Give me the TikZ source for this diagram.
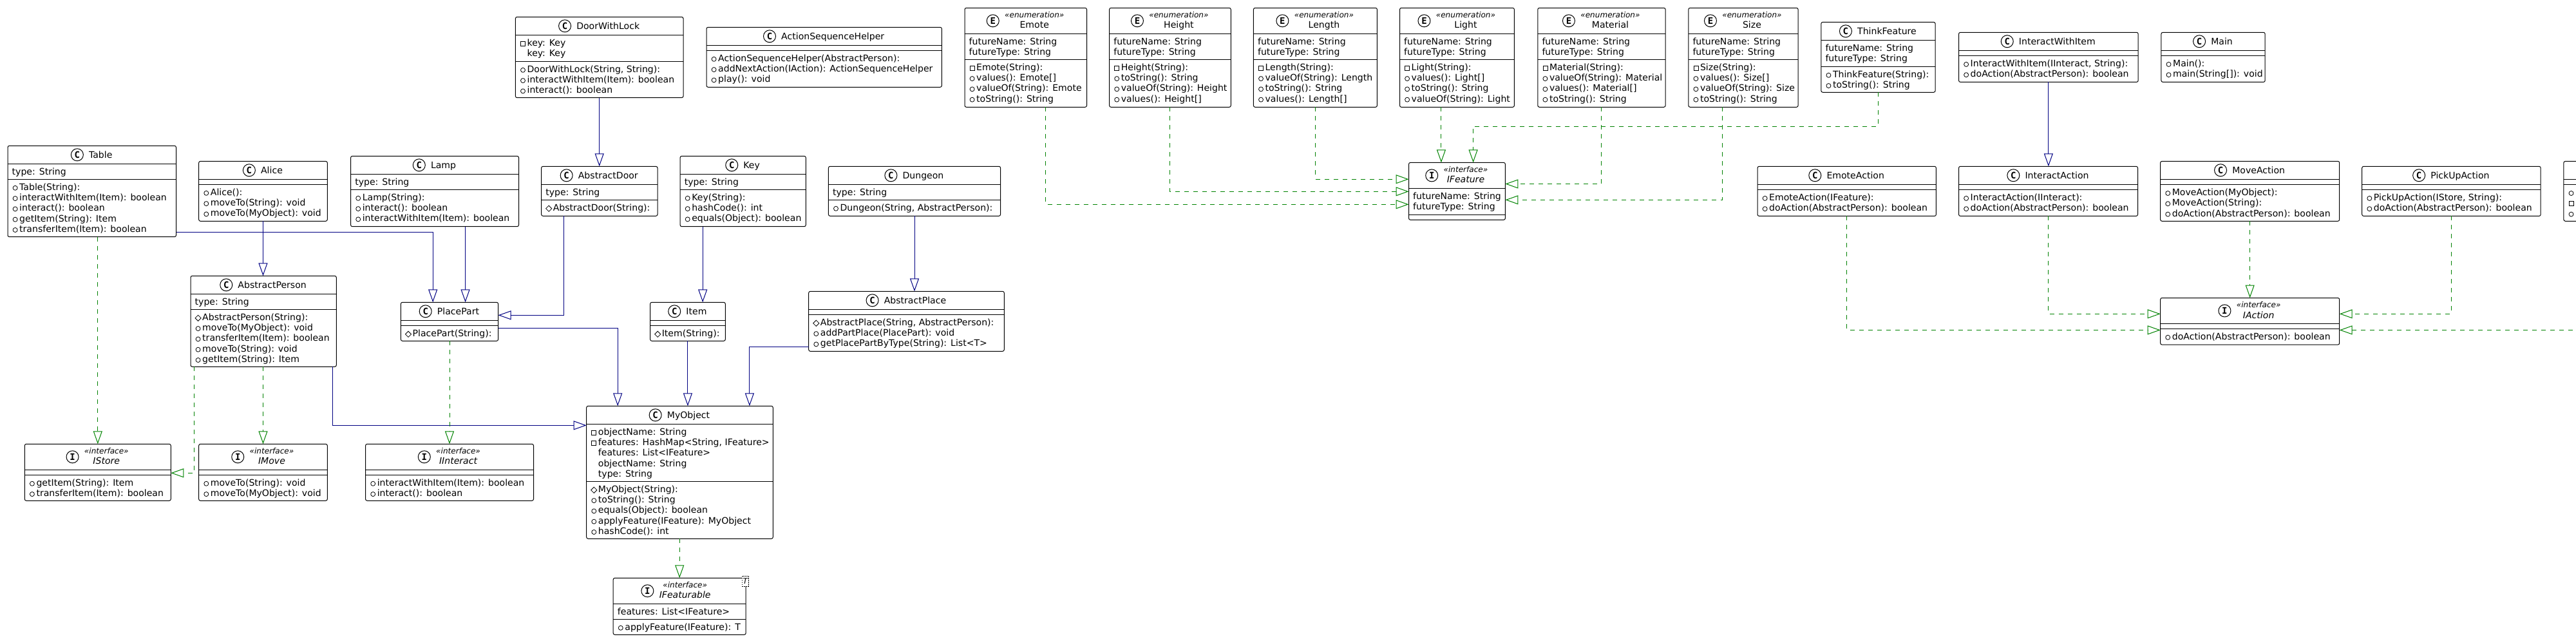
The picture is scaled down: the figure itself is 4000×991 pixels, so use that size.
\documentclass[tikz,border=0pt]{standalone}
\usepackage{fontspec}
\setmainfont{DejaVu Sans}[FakeStretch=1.005]
\setmonofont{DejaVu Sans Mono}
\usetikzlibrary{arrows.meta,shapes.geometric,fit}
\definecolor{umlblue}{HTML}{000082}
\definecolor{umlgreen}{HTML}{008200}
\tikzset{
classbox/.style={draw,fill=white,line width=1pt,rounded corners=2.5pt,inner sep=0pt,outer sep=0pt},
boxrule/.style={line width=1pt},
rowtext/.style={anchor=base west,inner sep=0pt,font=\fontsize{14}{16.3}\selectfont},
titletext/.style={anchor=base,inner sep=0pt,font=\fontsize{14}{16.3}\selectfont},
stereotext/.style={anchor=base,inner sep=0pt,font=\fontsize{12}{14}\selectfont\itshape},
iconring/.style={circle,draw,line width=1pt,minimum size=19pt,inner sep=0pt,anchor=east,xshift=-8pt,font=\fontsize{14}{16}\selectfont\ttfamily\bfseries},
iconpub/.style={circle,draw,line width=0.8pt,minimum size=7pt,inner sep=0pt},
iconpri/.style={rectangle,draw,line width=0.8pt,minimum size=7pt,inner sep=0pt},
iconpro/.style={diamond,draw,line width=0.8pt,minimum size=9.5pt,inner sep=0pt},
templatetag/.style={draw,fill=white,dash pattern=on 1.5pt off 1.5pt,minimum width=10pt,minimum height=15.5pt,inner sep=0pt,font=\fontsize{12}{14}\selectfont\itshape},
extendsline/.style={draw=umlblue,line width=1pt,-{Triangle[open,length=20pt,width=14pt]}},
realizeline/.style={draw=umlgreen,line width=1pt,dash pattern=on 7pt off 7pt,-{Triangle[open,length=20pt,width=14pt]}},
}
\def\parsex#1,#2\relax{\def\xl{#1}\def\xr{#2}}
\def\parsey#1,#2,#3,#4\relax{\def\ya{#1}\def\yb{#2}\def\yc{#3}\def\yd{#4}}
\def\titleshift{0}
\def\rowshiftpub{18}\def\rowshiftpri{18}\def\rowshiftpro{18}\def\rowshiftnil{18}\def\rowshiftflat{6.5}
\newcommand{\rowiconpub}[2]{\node[iconpub] (#1) at (#2) {};}
\newcommand{\rowiconpri}[2]{\node[iconpri] (#1) at (#2) {};}
\newcommand{\rowiconpro}[2]{\node[iconpro] (#1) at (#2) {};}
\newcommand{\rowiconnil}[2]{}
\newcommand{\rowiconflat}[2]{}
\newcommand{\boxrows}[3]{% name, top of the compartment, rows
  \if\relax\detokenize{#3}\relax\else
  \foreach \ic/\txt [count=\rownum from 0] in {#3} {
    \edef\rowx{\csname rowshift\ic\endcsname}
    \pgfmathsetmacro\rowy{#2+17+\rownum*16.3}
    \node[rowtext] (#1-\rownum) at (\xl+\rowx,\rowy) {\txt};
    \csname rowicon\ic\endcsname{#1-i\rownum}{\xl+11.6,\rowy-3.5}
  }
  \fi}
\newcommand{\boxtitleC}[1]{
  \node[titletext] (#1-t) at ({(\xl+\xr)/2+13.5+\titleshift},\ya+19) {#1};
  \node[iconring] (#1-c) at (#1-t.west |- #1-mid) {C};}
\newcommand{\boxtitleE}[1]{
  \node[stereotext] (#1-s) at ({(\xl+\xr)/2+13.5+\titleshift},\ya+15) {«enumeration»};
  \node[titletext] (#1-t) at ({(\xl+\xr)/2+13.5+\titleshift},\ya+31.5) {#1};
  \node[fit=(#1-s)(#1-t),inner sep=0pt] (#1-f) {};
  \node[iconring] (#1-c) at (#1-f.west |- #1-mid) {E};}
\newcommand{\boxtitleI}[1]{
  \node[stereotext] (#1-s) at ({(\xl+\xr)/2+13.5+\titleshift},\ya+15) {«interface»};
  \node[titletext,font=\fontsize{14}{16.3}\selectfont\itshape] (#1-t) at ({(\xl+\xr)/2+13.5+\titleshift},\ya+31.5) {#1};
  \node[fit=(#1-s)(#1-t),inner sep=0pt] (#1-f) {};
  \node[iconring] (#1-c) at (#1-f.west |- #1-mid) {I};}
\newcommand{\boxtitleX}[1]{}
\newcommand{\umlbox}[6]{% name, kind, x range, y levels, attributes, methods
  \parsex#3\relax \parsey#4\relax
  \node[classbox,minimum width=\xr-\xl,minimum height=\yd-\ya] (#1) at ({(\xl+\xr)/2},{(\ya+\yd)/2}) {};
  \draw[boxrule] (\xl,\yb) -- (\xr,\yb);
  \draw[boxrule] (\xl,\yc) -- (\xr,\yc);
  \coordinate (#1-mid) at ({(\xl+\xr)/2},{(\ya+\yb)/2});
  \csname boxtitle#2\endcsname{#1}
  \boxrows{#1-a}{\yb}{#5}
  \boxrows{#1-m}{\yc}{#6}}
\begin{document}
\begin{tikzpicture}[x=1pt,y=-1pt]
\useasboundingbox (0,0) rectangle (4000,991);
\clip (0,0) rectangle (4000,991);
% left part
\umlbox{Table}{C}{12,273.5}{226.3,254.3,278.3,367.7}{flat/type: String}{pub/Table(String):,pub/interactWithItem(Item): boolean,pub/interact(): boolean,pub/getItem(String): Item,pub/transferItem(Item): boolean}
\umlbox{Alice}{C}{308.7,508.3}{250.3,278.3,286.3,343.3}{}{pub/Alice():,pub/moveTo(String): void,pub/moveTo(MyObject): void}
\umlbox{Lamp}{C}{544.6,805.5}{242.3,270.3,294.3,351.7}{flat/type: String}{pub/Lamp(String):,pub/interact(): boolean,pub/interactWithItem(Item): boolean}
\umlbox{DoorWithLock}{C}{800.4,1061}{26.3,54.3,95.3,151.7}{pri/key: Key,nil/key: Key}{pub/{DoorWithLock(String, String):},pub/interactWithItem(Item): boolean,pub/interact(): boolean}
\umlbox{AbstractDoor}{C}{840.6,1021}{258.3,286.3,310.3,335.3}{flat/type: String}{pro/AbstractDoor(String):}
\umlbox{AbstractPerson}{C}{296,522.3}{428.3,456.3,480.3,569.3}{flat/type: String}{pro/AbstractPerson(String):,pub/moveTo(MyObject): void,pub/transferItem(Item): boolean,pub/moveTo(String): void,pub/getItem(String): Item}
\umlbox{PlacePart}{C}{622.4,773.6}{469.3,497.3,505.3,529.3}{}{pro/PlacePart(String):}
\umlbox{IStore}{I}{38.3,265.3}{689.3,729.3,737.3,777.3}{}{pub/getItem(String): Item,pub/transferItem(Item): boolean}
\umlbox{IMove}{I}{308.7,508.3}{689.3,729.3,737.3,777.3}{}{pub/moveTo(String): void,pub/moveTo(MyObject): void}
\umlbox{IInteract}{I}{567.6,828.5}{689.3,729.3,737.3,777.3}{}{pub/interactWithItem(Item): boolean,pub/interact(): boolean}
\umlbox{MyObject}{C}{910.7,1200.3}{630.3,658.3,747.3,836.3}{pri/objectName: String,pri/{features: HashMap<String, IFeature>},nil/features: List<IFeature>,nil/objectName: String,nil/type: String}{pro/MyObject(String):,pub/toString(): String,pub/equals(Object): boolean,pub/applyFeature(IFeature): MyObject,pub/hashCode(): int}
{\def\titleshift{-5}
\umlbox{IFeaturable}{I}{952.2,1158.2}{897.3,937.3,961.3,985.3}{flat/features: List<IFeature>}{pub/applyFeature(IFeature): T}}
\node[templatetag] (IFeaturable-T) at (1157.2,902.1) {T};
\umlbox{Item}{C}{1009.6,1126.3}{469.3,497.3,505.3,529.3}{}{pro/Item(String):}
\umlbox{Key}{C}{1056.1,1251.3}{242.3,270.3,294.3,351.7}{flat/type: String}{pub/Key(String):,pub/hashCode(): int,pub/equals(Object): boolean}
\umlbox{Dungeon}{C}{1286.4,1553.6}{258.3,286.3,310.3,335.3}{flat/type: String}{pub/{Dungeon(String, AbstractPerson):}}
\umlbox{AbstractPlace}{C}{1255.7,1559.3}{452.3,480.3,488.3,545.3}{}{pro/{AbstractPlace(String, AbstractPerson):},pub/addPartPlace(PlacePart): void,pub/getPlacePartByType(String): List<T>}
\umlbox{ActionSequenceHelper}{C}{1097,1462.4}{42.3,70.3,78.3,135.3}{}{pub/ActionSequenceHelper(AbstractPerson):,pub/addNextAction(IAction): ActionSequenceHelper,pub/play(): void}
% enumerations and features
\umlbox{Emote}{E}{1498,1687.5}{12.3,52.3,92.3,166.3}{flat/futureName: String,flat/futureType: String}{pri/Emote(String):,pub/values(): Emote[],pub/valueOf(String): Emote,pub/toString(): String}
\umlbox{Height}{E}{1722.6,1911.3}{12.3,52.3,92.3,166.3}{flat/futureName: String,flat/futureType: String}{pri/Height(String):,pub/toString(): String,pub/valueOf(String): Height,pub/values(): Height[]}
\umlbox{Length}{E}{1946.4,2138.4}{12.3,52.3,92.3,166.3}{flat/futureName: String,flat/futureType: String}{pri/Length(String):,pub/valueOf(String): Length,pub/toString(): String,pub/values(): Length[]}
\umlbox{Light}{E}{2173.5,2351.4}{12.3,52.3,92.3,166.3}{flat/futureName: String,flat/futureType: String}{pri/Light(String):,pub/values(): Light[],pub/toString(): String,pub/valueOf(String): Light}
\umlbox{Material}{E}{2387.8,2586.1}{12.3,52.3,92.3,166.3}{flat/futureName: String,flat/futureType: String}{pri/Material(String):,pub/valueOf(String): Material,pub/values(): Material[],pub/toString(): String}
\umlbox{Size}{E}{2621.8,2792.1}{12.3,52.3,92.3,166.3}{flat/futureName: String,flat/futureType: String}{pri/Size(String):,pub/values(): Size[],pub/valueOf(String): Size,pub/toString(): String}
\umlbox{ThinkFeature}{C}{2827.8,3005.1}{34.4,62.3,103.3,143.3}{flat/futureName: String,flat/futureType: String}{pub/ThinkFeature(String):,pub/toString(): String}
\umlbox{IFeature}{I}{2187.5,2337.4}{252.4,292.4,333.3,341.3}{flat/futureName: String,flat/futureType: String}{}
% actions
\umlbox{EmoteAction}{C}{2729,3006.4}{258.3,286.2,294.4,335.4}{}{pub/EmoteAction(IFeature):,pub/doAction(AbstractPerson): boolean}
\umlbox{InteractWithItem}{C}{3041.5,3320.2}{50.3,78.2,86.4,127.4}{}{pub/{InteractWithItem(IInteract, String):},pub/doAction(AbstractPerson): boolean}
\umlbox{Main}{C}{3355.9,3517.2}{50.3,78.2,86.4,127.4}{}{pub/Main():,pub/main(String[]): void}
\umlbox{InteractAction}{C}{3041.5,3319.5}{258.3,286.2,294.4,335.4}{}{pub/InteractAction(IInteract):,pub/doAction(AbstractPerson): boolean}
\umlbox{MoveAction}{C}{3354.6,3632.7}{250.3,278.2,286.5,343.3}{}{pub/MoveAction(MyObject):,pub/MoveAction(String):,pub/doAction(AbstractPerson): boolean}
\umlbox{PickUpAction}{C}{3667.7,3945.2}{258.3,286.2,294.4,335.4}{}{pub/{PickUpAction(IStore, String):},pub/doAction(AbstractPerson): boolean}
\umlbox{lastBox}{X}{3980.9,4259}{250.3,278.2,286.5,343.3}{}{pub/,pri/,pub/}
\umlbox{IAction}{I}{3354.6,3632.7}{462.5,502.4,510.3,535.1}{}{pub/doAction(AbstractPerson): boolean}
% extends
\draw[extendsline] (DoorWithLock.south) -- (DoorWithLock.south |- AbstractDoor.north);
\draw[extendsline] (Alice.south) -- (Alice.south |- AbstractPerson.north);
\draw[extendsline] (Table.east |- 0,360.3) -| (672.2,0 |- PlacePart.north);
\draw[extendsline] (722.6,0 |- Lamp.south) -- (722.6,0 |- PlacePart.north);
\draw[extendsline] (875.6,0 |- AbstractDoor.south) |- (PlacePart.east |- 0,489.3);
\draw[extendsline] (516,0 |- AbstractPerson.south) |- (MyObject.west |- 0,660.3);
\draw[extendsline] (PlacePart.east |- 0,509.3) -| (959.2,0 |- MyObject.north);
\draw[extendsline] (Item.south) -- (Item.south |- MyObject.north);
\draw[extendsline] (AbstractPlace.west |- 0,538.3) -| (1163.9,0 |- MyObject.north);
\draw[extendsline] (1091.2,0 |- Key.south) -- (1091.2,0 |- Item.north);
\draw[extendsline] (Dungeon.south) -- (Dungeon.south |- AbstractPlace.north);
\draw[extendsline] (InteractWithItem.south) -- (InteractWithItem.south |- InteractAction.north);
% implements
\draw[realizeline] (IStore.north |- Table.south) -- (IStore.north);
\draw[realizeline] (AbstractPerson.south -| IMove.north) -- (IMove.north);
\draw[realizeline] (301.7,0 |- AbstractPerson.south) |- (IStore.east |- 0,734.3);
\draw[realizeline] (PlacePart.south) -- (PlacePart.south |- IInteract.north);
\draw[realizeline] (IFeaturable.north |- MyObject.south) -- (IFeaturable.north);
\draw[realizeline] (1623.7,0 |- Emote.south) |- (IFeature.west |- 0,317.3);
\draw[realizeline] (1816.3,0 |- Height.south) |- (IFeature.west |- 0,297.3);
\draw[realizeline] (2042.7,0 |- Length.south) |- (IFeature.west |- 0,278.2);
\draw[realizeline] (2237.9,0 |- Light.south) -- (2237.9,0 |- IFeature.north);
\draw[realizeline] (ThinkFeature.south) -- (ThinkFeature.south |- 0,196.3) -| (2287.6,0 |- IFeature.north);
\draw[realizeline] (Material.south) |- (IFeature.east |- 0,285.5);
\draw[realizeline] (2674.7,0 |- Size.south) |- (IFeature.east |- 0,310.3);
\draw[realizeline] (EmoteAction.south) |- (IAction.west |- 0,512.4);
\draw[realizeline] (InteractAction.south) |- (IAction.west |- 0,487.3);
\draw[realizeline] (MoveAction.south) -- (MoveAction.south |- IAction.north);
\draw[realizeline] (PickUpAction.south) |- (IAction.east |- 0,487.3);
\draw[realizeline] (lastBox.south) |- (IAction.east |- 0,512.4);
\end{tikzpicture}
\end{document}
